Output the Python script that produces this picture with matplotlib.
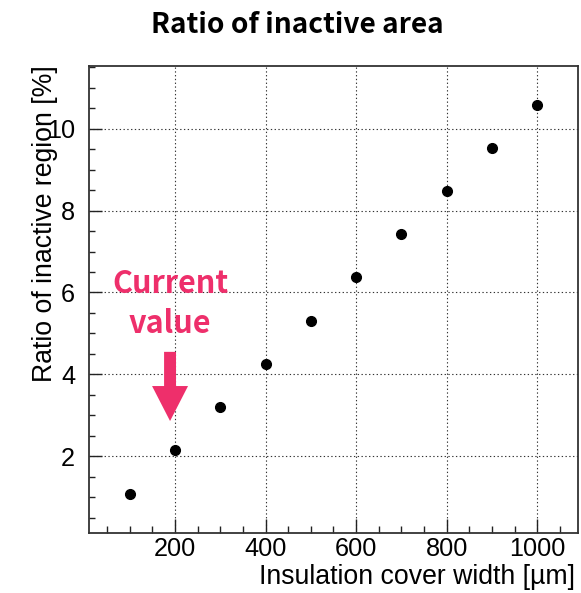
import matplotlib
matplotlib.use("Agg")
import matplotlib.pyplot as plt
from matplotlib.patches import FancyArrowPatch
from matplotlib.ticker import MultipleLocator

# data
width_um = [100, 200, 300, 400, 500, 600, 700, 800, 900, 1000]
inactive_pct = [1.07, 2.15, 3.20, 4.25, 5.30, 6.37, 7.43, 8.48, 9.52, 10.59]
current_width = 189
arrow_y = (4.55, 2.86)
pink = '#EE2F6B'

plt.rcParams['font.family'] = ['Liberation Sans', 'DejaVu Sans']

fig = plt.figure(figsize=(5.81, 5.93), dpi=100)
ax = fig.add_axes([0.1532, 0.1007, 0.8416, 0.7885])

ax.plot(width_um, inactive_pct, 'o', color='black', ms=7, zorder=5)

ax.set_xlim(10, 1090)
ax.set_ylim(0.118, 11.54)
ax.xaxis.set_major_locator(MultipleLocator(200))
ax.xaxis.set_minor_locator(MultipleLocator(50))
ax.yaxis.set_major_locator(MultipleLocator(2))
ax.yaxis.set_minor_locator(MultipleLocator(0.5))

ax.tick_params(which='both', direction='in', top=False, right=False,
               width=1, color='#222222', labelsize=18.2)
ax.tick_params(axis='x', which='major', length=10, pad=2.5)
ax.tick_params(axis='x', which='minor', length=5)
ax.tick_params(axis='y', which='major', length=9.4, pad=10)
ax.tick_params(axis='y', which='minor', length=4)

for s in ax.spines.values():
    s.set_linewidth(1.3)
    s.set_color('#333333')

ax.grid(True, which='major', color='#333333', lw=0.8, linestyle=(0, (1.2, 2.2)))
ax.set_axisbelow(True)

ax.set_xlabel('Insulation cover width [µm]', fontsize=19.2, loc='right')
ax.xaxis.set_label_coords(0.9939, -0.0648)
ax.set_ylabel('Ratio of inactive region [%]', fontsize=19.2, loc='top')
ax.yaxis.set_label_coords(-0.064, 1.0)

fig.text(0.512, 0.944, 'Ratio of inactive area', ha='center', va='baseline',
         fontsize=20.2, fontweight='bold',
         family=['Noto Sans CJK JP', 'DejaVu Sans'])

# "Current value" note with arrow
ax.text(current_width, 5.98, 'Current', ha='center', va='baseline', color=pink,
        fontsize=22, fontweight='bold', family=['Noto Sans CJK JP', 'DejaVu Sans'])
ax.text(current_width, 5.0, 'value', ha='center', va='baseline', color=pink,
        fontsize=22, fontweight='bold', family=['Noto Sans CJK JP', 'DejaVu Sans'])
arrow = FancyArrowPatch((current_width, arrow_y[0]), (current_width, arrow_y[1]),
                        arrowstyle='simple,head_length=25.2,head_width=25.9,tail_width=8.6',
                        mutation_scale=1, shrinkA=0, shrinkB=0,
                        color=pink, lw=0, zorder=6)
ax.add_patch(arrow)

fig.savefig('out.png', dpi=100)
